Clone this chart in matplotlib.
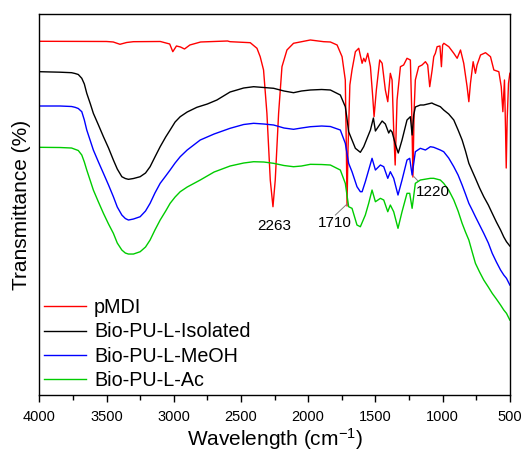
import matplotlib
matplotlib.use("Agg")
import matplotlib.pyplot as plt
from matplotlib.ticker import MultipleLocator

plt.rcParams['font.family'] = ['Liberation Sans', 'DejaVu Sans']
plt.rcParams['mathtext.fontset'] = 'custom'
plt.rcParams['mathtext.rm'] = 'Liberation Sans'
plt.rcParams['mathtext.it'] = 'Liberation Sans'
plt.rcParams['mathtext.default'] = 'regular'

# ---------------- data (wavenumber, transmittance in arbitrary units) ----------------
pmdi_w = [4000, 3500, 3450, 3400, 3350, 3300, 3100, 3030, 3007, 2980, 2950, 2920, 2880, 2800,
          2600, 2581, 2431, 2381, 2357, 2332, 2307, 2282, 2262, 2245, 2220, 2195, 2158, 2109,
          1984, 1885, 1835, 1785, 1748, 1724, 1716, 1711, 1704, 1690, 1674, 1649, 1624, 1599,
          1587, 1575, 1557, 1537, 1520, 1510, 1493, 1468, 1450, 1426, 1408, 1389, 1376, 1364,
          1353, 1339, 1314, 1290, 1265, 1240, 1230, 1221, 1212, 1203, 1178, 1153, 1128, 1111,
          1096, 1078, 1066, 1054, 1041, 1020, 1009, 1000, 991, 954, 917, 892, 867, 843, 818,
          805, 793, 773, 756, 744, 718, 681, 644, 619, 582, 564, 552, 540, 532, 527, 520, 510, 500]
pmdi_t = [353.7, 353.5, 353, 350.7, 352.5, 353.3, 353.5, 351, 343.3, 349, 348, 346, 350, 353,
          354, 353.3, 352.3, 346.7, 338.3, 325, 281.7, 215, 188.3, 215, 281.7, 328.3, 345, 351.7,
          355, 353.3, 353, 350, 338.3, 315, 245, 189, 245, 310, 325, 343.3, 346.7, 331.7,
          336.7, 333.3, 341.7, 328.3, 298.3, 278.3, 305, 335, 331.7, 305, 293.3, 321.7, 315, 265,
          230, 295, 328.3, 330, 336.7, 335, 285, 218, 285, 315, 328.3, 330, 333.3, 330,
          308.3, 325, 338.3, 341.7, 348.3, 349, 328.3, 350, 351.7, 348.3, 341.7, 336.7, 345, 331.7, 308.3,
          293.3, 311.7, 333.3, 321.7, 330, 340, 342.3, 338.3, 325, 323.3, 308.3, 283.3, 315, 265, 227, 275, 311.7, 321.7]

iso_w = [4000, 3846, 3760, 3734, 3710, 3684, 3665, 3647, 3620, 3598, 3560, 3523, 3485, 3449,
         3420, 3386, 3360, 3337, 3300, 3250, 3210, 3176, 3140, 3101, 3060, 3027, 2990, 2952,
         2900, 2828, 2750, 2679, 2581, 2530, 2480, 2406, 2330, 2257, 2180, 2109, 2050, 1984,
         1900, 1835, 1761, 1724, 1712, 1699, 1674, 1649, 1612, 1587, 1562, 1537, 1515, 1500,
         1475, 1450, 1426, 1401, 1389, 1376, 1350, 1330, 1302, 1265, 1240, 1227, 1215, 1203,
         1166, 1141, 1080, 1066, 1017, 992, 955, 917, 885, 855, 830, 805, 780, 756, 725, 694,
         660, 631, 600, 569, 545, 525, 500]
iso_t = [323.3, 322.8, 322.3, 321.5, 320.5, 316.7, 311, 301.7, 291, 281.7, 270, 258.3, 247, 235,
         226, 218.3, 216.5, 215.7, 216.5, 218.3, 222, 228.3, 238, 248.3, 258, 265, 273, 278.3,
         283, 287.7, 291, 295, 303, 305, 307, 308.3, 307.5, 306.7, 304, 302.3, 304, 305,
         305.5, 305, 300, 288.3, 277, 263.3, 255, 246.7, 242.7, 248.3, 256.7, 265, 277, 264,
         269, 274, 271, 262, 265, 263, 250, 242, 255, 275, 278.3, 260, 280, 288,
         290, 290, 292, 291, 288.3, 285, 281, 275, 265, 255, 244, 231.7, 224, 216.7, 207, 198.3,
         190, 181.7, 173, 165, 158, 153.3, 149]

meoh_w = [4000, 3846, 3760, 3734, 3710, 3684, 3665, 3647, 3620, 3598, 3560, 3523, 3485, 3449,
          3420, 3386, 3360, 3337, 3300, 3250, 3210, 3176, 3140, 3101, 3060, 3027, 2990, 2952,
          2900, 2803, 2700, 2581, 2480, 2406, 2330, 2257, 2180, 2109, 2050, 1984, 1900, 1835,
          1761, 1724, 1699, 1674, 1637, 1612, 1599, 1575, 1550, 1525, 1500, 1463, 1438, 1408,
          1389, 1364, 1332, 1302, 1265, 1245, 1227, 1203, 1166, 1128, 1091, 1066, 1017, 992,
          955, 917, 885, 855, 830, 805, 780, 756, 725, 694, 660, 631, 600, 569, 545, 525, 500]
meoh_t = [289, 289, 288.5, 287.7, 286.5, 283.3, 275, 265, 254, 245, 233, 221.7, 210, 198.3,
          188, 180, 176.5, 175, 176, 178.3, 184, 191.7, 202, 211.7, 219, 225, 232, 238.3,
          245, 255, 261, 266.7, 270.5, 271.7, 271, 270, 267, 265.7, 267, 268.3, 269, 268.5,
          265, 251.7, 231.7, 223.3, 208.3, 203.3, 203.3, 213.3, 225, 236.7, 225, 230, 228.3, 216.7,
          223.3, 216.7, 200, 215, 235, 236.7, 220, 243.3, 246.7, 245, 248.3, 247.7, 245, 243.3,
          237, 228.3, 220, 210, 201, 191.7, 185, 178.3, 170, 161.7, 152, 141.7, 133, 125, 120, 116.7, 110]

ac_w = [4000, 3846, 3760, 3734, 3710, 3684, 3665, 3647, 3620, 3598, 3560, 3523, 3485, 3449,
        3420, 3386, 3360, 3337, 3300, 3250, 3210, 3176, 3140, 3101, 3060, 3027, 2990, 2952,
        2900, 2803, 2700, 2581, 2480, 2406, 2330, 2257, 2180, 2109, 2050, 1984, 1900, 1835,
        1761, 1724, 1699, 1674, 1637, 1612, 1575, 1550, 1525, 1500, 1463, 1438, 1408, 1389,
        1364, 1332, 1302, 1265, 1245, 1227, 1203, 1166, 1091, 1066, 1017, 992, 955, 917,
        885, 855, 830, 805, 780, 756, 725, 694, 660, 631, 600, 569, 545, 525, 500]
ac_t = [247.7, 247.5, 247, 245.7, 244.5, 240, 233, 225, 214, 205, 193, 181.7, 171, 161.7,
        152, 145, 142, 141, 141, 143.3, 148, 155, 165, 175, 184, 191.7, 198, 203.3,
        208, 215, 223, 229, 232, 233.3, 233, 231.7, 229.5, 228.3, 229, 230.7, 230.5, 230,
        225, 211.7, 188.3, 186.7, 170, 168.3, 180, 191.7, 205, 193.3, 196.7, 195, 183.3, 190,
        183.3, 166.7, 183.3, 201.7, 201.7, 186.7, 211.7, 215, 216.7, 216.7, 215, 211.7, 205, 195,
        184, 171.7, 163, 155, 143, 131.7, 123, 115, 108, 101.7, 96, 90, 85, 81.7, 75]

series_labels = ['pMDI', 'Bio-PU-L-Isolated', 'Bio-PU-L-MeOH', 'Bio-PU-L-Ac']
series_colors = ['#FF0000', '#000000', '#0000FF', '#00CC00']
x_ticks = [4000, 3500, 3000, 2500, 2000, 1500, 1000, 500]

peak_labels = ['2263', '1710', '1220']
peak_text_pos = [(2254, 169), (1804, 171.7), (1074, 203.3)]
peak_arrow = [None, ((1798, 180), (1711, 191)), ((1185, 214.3), (1213, 218.3))]

# ---------------- plot ----------------
fig = plt.figure(figsize=(5.24, 4.51), dpi=100)
ax = fig.add_axes([0.075, 0.124, 0.898, 0.845])

data = [(pmdi_w, pmdi_t), (iso_w, iso_t), (meoh_w, meoh_t), (ac_w, ac_t)]
for (w, t), lab, col in zip(data, series_labels, series_colors):
    ax.plot(w, t, color=col, lw=1.0, label=lab)

ax.set_xlim(4000, 500)
ax.set_ylim(0, 381)
ax.set_xticks(x_ticks)
ax.xaxis.set_minor_locator(MultipleLocator(250))
ax.tick_params(axis='x', which='major', direction='out', length=5, width=1.0, labelsize=10.5, pad=6)
ax.tick_params(axis='x', which='minor', direction='out', length=3.5, width=1.0)
ax.set_yticks([])
for sp in ax.spines.values():
    sp.set_linewidth(1.0)

ax.set_xlabel(r'Wavelength (cm$^{-1}$)', fontsize=15, labelpad=1)
ax.set_ylabel('Transmittance (%)', fontsize=15, labelpad=6)

for lab, pos in zip(peak_labels, peak_text_pos):
    ax.text(pos[0], pos[1], lab, fontsize=11, ha='center', va='center')
for arr in peak_arrow:
    if arr is not None:
        (x0, y0), (x1, y1) = arr
        ax.plot([x0, x1], [y0, y1], color='#808080', lw=0.7)

leg = ax.legend(loc='lower left', frameon=False, fontsize=14.2, handlelength=2.1,
                handletextpad=0.42, labelspacing=0.27, borderaxespad=0.15, borderpad=0.1)

fig.savefig('out.png', dpi=100)
